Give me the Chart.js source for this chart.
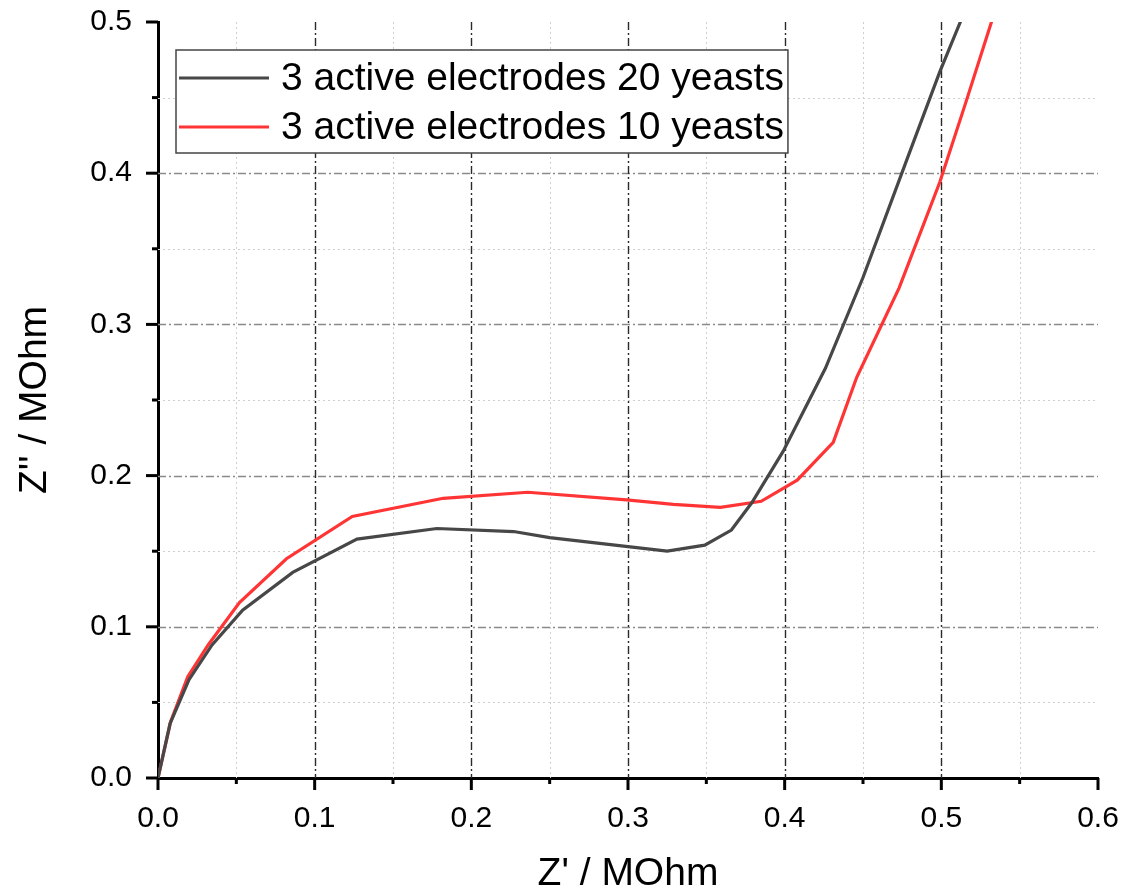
<!DOCTYPE html>
<html>
<head>
<meta charset="utf-8">
<script src="https://cdn.jsdelivr.net/npm/chart.js@4/dist/chart.umd.min.js"></script>
<style>
  body { margin: 0; background: #fff; }
  #wrap { width: 1122px; height: 894px; }
</style>
</head>
<body>
<div id="wrap"><canvas id="chart" width="1122" height="894"></canvas></div>
<script>
// series (Z' and Z'' in MOhm)
const labels = ["3 active electrodes 20 yeasts", "3 active electrodes 10 yeasts"];
const x20 = [0, 0.0077, 0.0198, 0.0345, 0.054, 0.086, 0.127, 0.178, 0.227, 0.25, 0.300, 0.325, 0.349, 0.366, 0.379, 0.399, 0.426, 0.450, 0.478, 0.499, 0.530];
const y20 = [0, 0.036, 0.065, 0.088, 0.111, 0.136, 0.158, 0.165, 0.163, 0.159, 0.153, 0.150, 0.154, 0.164, 0.182, 0.216, 0.271, 0.331, 0.409, 0.467, 0.545];
const x10 = [0, 0.008, 0.019, 0.032, 0.052, 0.082, 0.124, 0.182, 0.236, 0.299, 0.329, 0.359, 0.385, 0.408, 0.431, 0.446, 0.473, 0.499, 0.516, 0.532, 0.55];
const y10 = [0, 0.037, 0.067, 0.088, 0.116, 0.145, 0.173, 0.185, 0.189, 0.184, 0.181, 0.179, 0.183, 0.197, 0.222, 0.265, 0.324, 0.394, 0.448, 0.5, 0.558];
const xTicks = [0, 0.1, 0.2, 0.3, 0.4, 0.5, 0.6];
const yTicks = [0, 0.1, 0.2, 0.3, 0.4, 0.5];

const FONT = "'Liberation Sans', Arial, sans-serif";
Chart.defaults.font.family = FONT;
Chart.defaults.color = "#000";

const toPoints = (xs, ys) => xs.map((x, i) => ({ x: x, y: ys[i] }));

// grid lines like Origin: dash-dot on majors, dotted on minors
const gridPlugin = {
  id: "originGrid",
  beforeDatasetsDraw(chart) {
    const { ctx, chartArea: a, scales } = chart;
    const xs = scales.x, ys = scales.y;
    ctx.save();
    ctx.lineWidth = 1;
    // minor dotted
    ctx.strokeStyle = "#cfcfcf";
    ctx.setLineDash([2, 3]);
    for (let i = 1; i < 12; i += 2) {
      const px = Math.round(xs.getPixelForValue(i * 0.05)) + 0.5;
      ctx.beginPath(); ctx.moveTo(px, a.top); ctx.lineTo(px, a.bottom); ctx.stroke();
    }
    for (let i = 1; i < 10; i += 2) {
      const py = Math.round(ys.getPixelForValue(i * 0.05)) + 0.5;
      ctx.beginPath(); ctx.moveTo(a.left, py); ctx.lineTo(a.right, py); ctx.stroke();
    }
    // major dash-dot
    ctx.lineWidth = 1.4;
    ctx.setLineDash([8, 3, 2, 3]);
    ctx.strokeStyle = "#8a8a8a";
    yTicks.slice(1, -1).forEach((v) => {
      const py = Math.round(ys.getPixelForValue(v)) + 0.5;
      ctx.beginPath(); ctx.moveTo(a.left, py); ctx.lineTo(a.right, py); ctx.stroke();
    });
    ctx.strokeStyle = "#2a2a2a";
    xTicks.slice(1, -1).forEach((v) => {
      const px = Math.round(xs.getPixelForValue(v)) + 0.5;
      ctx.beginPath(); ctx.moveTo(px, a.top); ctx.lineTo(px, a.bottom); ctx.stroke();
    });
    ctx.restore();
  },
  afterDraw(chart) {
    const { ctx, chartArea: a, scales } = chart;
    ctx.save();
    // outward ticks
    ctx.strokeStyle = "#000";
    ctx.lineWidth = 3;
    ctx.setLineDash([]);
    for (let i = 0; i <= 12; i++) {
      const len = i % 2 === 0 ? 12 : 6;
      const px = scales.x.getPixelForValue(i * 0.05);
      ctx.beginPath(); ctx.moveTo(px, a.bottom); ctx.lineTo(px, a.bottom + len); ctx.stroke();
    }
    for (let i = 0; i <= 10; i++) {
      const len = i % 2 === 0 ? 12 : 6;
      const py = scales.y.getPixelForValue(i * 0.05);
      ctx.beginPath(); ctx.moveTo(a.left, py); ctx.lineTo(a.left - len, py); ctx.stroke();
    }

    // legend box inside the plot
    ctx.font = "39px " + FONT;
    const left = a.left + 18, top = a.top + 28;
    const textX = left + 105;
    let maxW = 0;
    chart.data.datasets.forEach((d) => { maxW = Math.max(maxW, ctx.measureText(d.label).width); });
    const w = textX + maxW + 4 - left, h = 103;
    ctx.fillStyle = "#fff";
    ctx.fillRect(left, top, w, h);
    ctx.strokeStyle = "#444";
    ctx.lineWidth = 1.5;
    ctx.strokeRect(left, top, w, h);
    chart.data.datasets.forEach((d, i) => {
      const y = top + 28 + i * 49;
      ctx.strokeStyle = d.borderColor;
      ctx.lineWidth = 3;
      ctx.beginPath(); ctx.moveTo(left + 3, y); ctx.lineTo(left + 93, y); ctx.stroke();
      ctx.fillStyle = "#000";
      ctx.textBaseline = "middle";
      ctx.textAlign = "left";
      ctx.fillText(d.label, textX, y + 1);
    });
    ctx.restore();
  }
};

new Chart(document.getElementById("chart"), {
  type: "scatter",
  data: {
    datasets: [
      {
        label: labels[0],
        data: toPoints(x20, y20),
        showLine: true,
        borderColor: "#474747",
        borderWidth: 3.2,
        pointRadius: 0,
        tension: 0
      },
      {
        label: labels[1],
        data: toPoints(x10, y10),
        showLine: true,
        borderColor: "#ff3535",
        borderWidth: 3.2,
        pointRadius: 0,
        tension: 0
      }
    ]
  },
  options: {
    responsive: false,
    animation: false,
    devicePixelRatio: 1,
    layout: { padding: { top: 22, right: 24, left: 0, bottom: 0 } },
    plugins: { legend: { display: false }, tooltip: { enabled: false } },
    scales: {
      x: {
        type: "linear",
        min: 0,
        max: 0.6,
        afterFit: (s) => { s.height = 116; s.paddingLeft = 0; s.paddingRight = 0; },
        afterBuildTicks: (s) => { s.ticks = xTicks.map((v) => ({ value: v })); },
        grid: { display: false },
        border: { display: true, color: "#000", width: 3 },
        ticks: { padding: 15, font: { size: 30 }, callback: (v) => v.toFixed(1) },
        title: {
          display: true,
          text: "Z' / MOhm",
          font: { size: 39, lineHeight: 1 },
          padding: { top: 0, bottom: 0 }
        }
      },
      y: {
        type: "linear",
        min: 0,
        max: 0.5,
        afterFit: (s) => { s.width = 158; s.paddingTop = 0; s.paddingBottom = 0; },
        afterBuildTicks: (s) => { s.ticks = yTicks.map((v) => ({ value: v })); },
        grid: { display: false },
        border: { display: true, color: "#000", width: 3 },
        ticks: { padding: 18, font: { size: 30 }, callback: (v) => v.toFixed(1) },
        title: {
          display: true,
          text: "Z'' / MOhm",
          font: { size: 39, lineHeight: 1 },
          padding: { top: 16, bottom: 0 }
        }
      }
    }
  },
  plugins: [gridPlugin]
});
</script>
</body>
</html>
